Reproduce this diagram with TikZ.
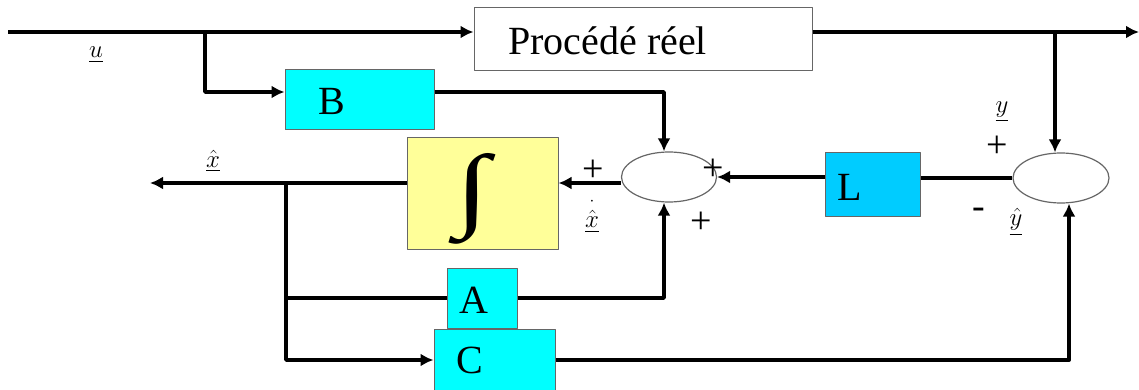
\documentclass[tikz,border=0pt]{standalone}
\usepackage{amsmath}
\usepackage{fontspec}
\setmainfont{Liberation Serif}
\usetikzlibrary{calc}
\usetikzlibrary{arrows.meta,shapes.geometric}
\usetikzlibrary{positioning}
\definecolor{aqua}{RGB}{0,255,255}
\definecolor{skyblk}{RGB}{0,204,255}
\definecolor{paleyellow}{RGB}{255,255,153}

\begin{document}
\begin{tikzpicture}[
  x=1pt,y=-1pt,
  line join=round,
  >={Latex[length=13pt,width=13pt]},
  sig/.style={draw=black,line width=3.8pt},
  blk/.style={draw=black!60,line width=1pt,inner sep=0pt},
  cblk/.style={blk,fill=aqua},
  sumstyle/.style={ellipse,draw=black!60,line width=1.2pt,fill=white,inner sep=0pt,
    minimum width=95pt,minimum height=50pt},
  bigtxt/.style={font=\fontsize{40}{44}\selectfont,inner sep=0pt},
  signstyle/.style={font=\fontsize{38}{40}\selectfont,inner sep=0pt},
  smalltxt/.style={font=\fontsize{24}{26}\selectfont,inner sep=0pt}
]
\useasboundingbox (0,0) rectangle (1139,390);

% blocks
\node[blk,minimum width=338pt,minimum height=63pt] (proc) at (643,39.5) {};
\node[bigtxt,anchor=base west] (proctxt) at (508,55) {Procédé réel};

\node[cblk,minimum width=149pt,minimum height=60pt] (B) at (359.5,100) {};
\node[bigtxt,anchor=base west] (Btxt) at (318,115) {B};

\node[blk,fill=paleyellow,minimum width=151pt,minimum height=111pt] (integ) at (482.5,193.5) {};
\node[inner sep=0pt] (intsym) at (472,199) {\resizebox{34pt}{66pt}{∫}};

\node[blk,fill=skyblk,minimum width=95pt,minimum height=63pt] (L) at (872.5,184.5) {};
\node[bigtxt,anchor=base west] (Ltxt) at (837,200) {L};

\node[cblk,minimum width=121pt,minimum height=62pt] (C) at (494.5,360) {};
\node[bigtxt,anchor=base west] (Ctxt) at (456,373) {C};

\node[cblk,minimum width=70pt,minimum height=60pt] (A) at (482,298) {};
\node[bigtxt,anchor=base west] (Atxt) at (459,313) {A};

% summing junctions
\node[sumstyle] (sum1) at (669,177) {};
\node[sumstyle,minimum width=96pt] (sum2) at (1061,178) {};

% branch points and free ends
\coordinate (uin) at (8,32);
\coordinate (utap) at (205,32);
\coordinate (yout) at (1139,32);
\coordinate (ytap) at (1055,32);
\coordinate (xout) at (150,183);
\coordinate (xtap) at (286,183);

% plant path
\draw[sig,->] (uin) -- (uin -| proc.west);
\draw[sig,->] (uin -| proc.east) -- (yout);
\draw[sig,->] (ytap) -- (ytap |- sum2.north);

% observer
\draw[sig,->] (utap) |- ($(B.west)+(0,-8)$);
\draw[sig,->] ($(B.east)+(0,-8)$) -| ($(sum1.north)+(-5,0)$);
\draw[sig] (sum2.west) -- (sum2.west -| L.east);
\draw[sig,->] (L.west |- sum1.east) -- (sum1.east);
\draw[sig,->] (xout -| sum1.west) -- (xout -| integ.east);
\draw[sig,->] (xout -| integ.west) -- (xout);
\draw[sig] (xtap) |- (A.west);
\draw[sig,->] (xtap) |- (C.west);
\draw[sig,->] (A.east) -| ($(sum1.south)+(-5,0)$);
\draw[sig,->] (C.east) -| ($(sum2.south)+(8,0)$);

% labels
\node[smalltxt] (ulab) at (96,55) {$\underline{u}$};
\node[smalltxt] (xlab) at (213,161) {$\underline{\hat{x}}$};
\node[smalltxt] (xdlab) at (592,214) {$\underline{\overset{\cdot}{\hat{x}}}$};
\node[smalltxt] (ylab) at (1002,112) {$\underline{y}$};
\node[smalltxt] (yhlab) at (1016,222) {$\underline{\hat{y}}$};
\node[signstyle] (p1) at (593,171) {+};
\node[signstyle] (p2) at (713,170) {+};
\node[signstyle] (p3) at (701,223) {+};
\node[signstyle] (p4) at (997,147) {+};
\node[signstyle] (m1) at (979,213) {-};

\end{tikzpicture}
\end{document}
